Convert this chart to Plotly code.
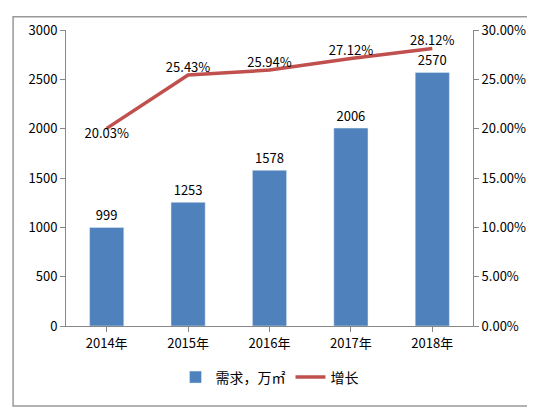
import plotly.graph_objects as go

years = ['2014年', '2015年', '2016年', '2017年', '2018年']
demand = [999, 1253, 1578, 2006, 2570]
growth = [20.03, 25.43, 25.94, 27.12, 28.12]
growth_pos = ['bottom center', 'top center', 'top center', 'top center', 'top center']

fig = go.Figure()
fig.add_trace(go.Bar(x=years, y=demand, name='需求，万㎡', marker_color='#4F81BD', width=0.42,
                     text=demand, textposition='outside', textfont=dict(size=13, color='black'),
                     cliponaxis=False))
fig.add_trace(go.Scatter(x=years, y=growth, name='增长', yaxis='y2', mode='lines+text',
                         line=dict(color='#C0504D', width=3.5),
                         text=['%.2f%%' % g for g in growth], textposition=growth_pos,
                         textfont=dict(size=13, color='black'), cliponaxis=False))

fig.update_layout(
    width=535, height=410,
    margin=dict(l=58, r=70, t=18, b=92),
    paper_bgcolor='white', plot_bgcolor='white',
    font=dict(family='Noto Sans CJK SC', size=13, color='black'),
    xaxis=dict(showline=True, linecolor='#888', ticks='outside', ticklen=5, tickcolor='#888'),
    yaxis=dict(range=[0, 3000], dtick=500, showline=True, linecolor='#888', showgrid=False,
               ticks='outside', ticklen=5, tickcolor='#888', zeroline=False),
    yaxis2=dict(range=[0, 30], dtick=5, overlaying='y', side='right', showline=True, linecolor='#888',
                showgrid=False, ticks='outside', ticklen=5, tickcolor='#888',
                tickformat='.2f', ticksuffix='%', zeroline=False),
    legend=dict(orientation='h', x=0.5, xanchor='center', y=-0.12, yanchor='top', font=dict(size=14)),
    shapes=[dict(type='rect', xref='paper', yref='paper', x0=-0.13, x1=1.155, y0=-0.27, y1=1.045,
                 line=dict(color='#999', width=1.5))],
)

fig.write_html('out.html')
